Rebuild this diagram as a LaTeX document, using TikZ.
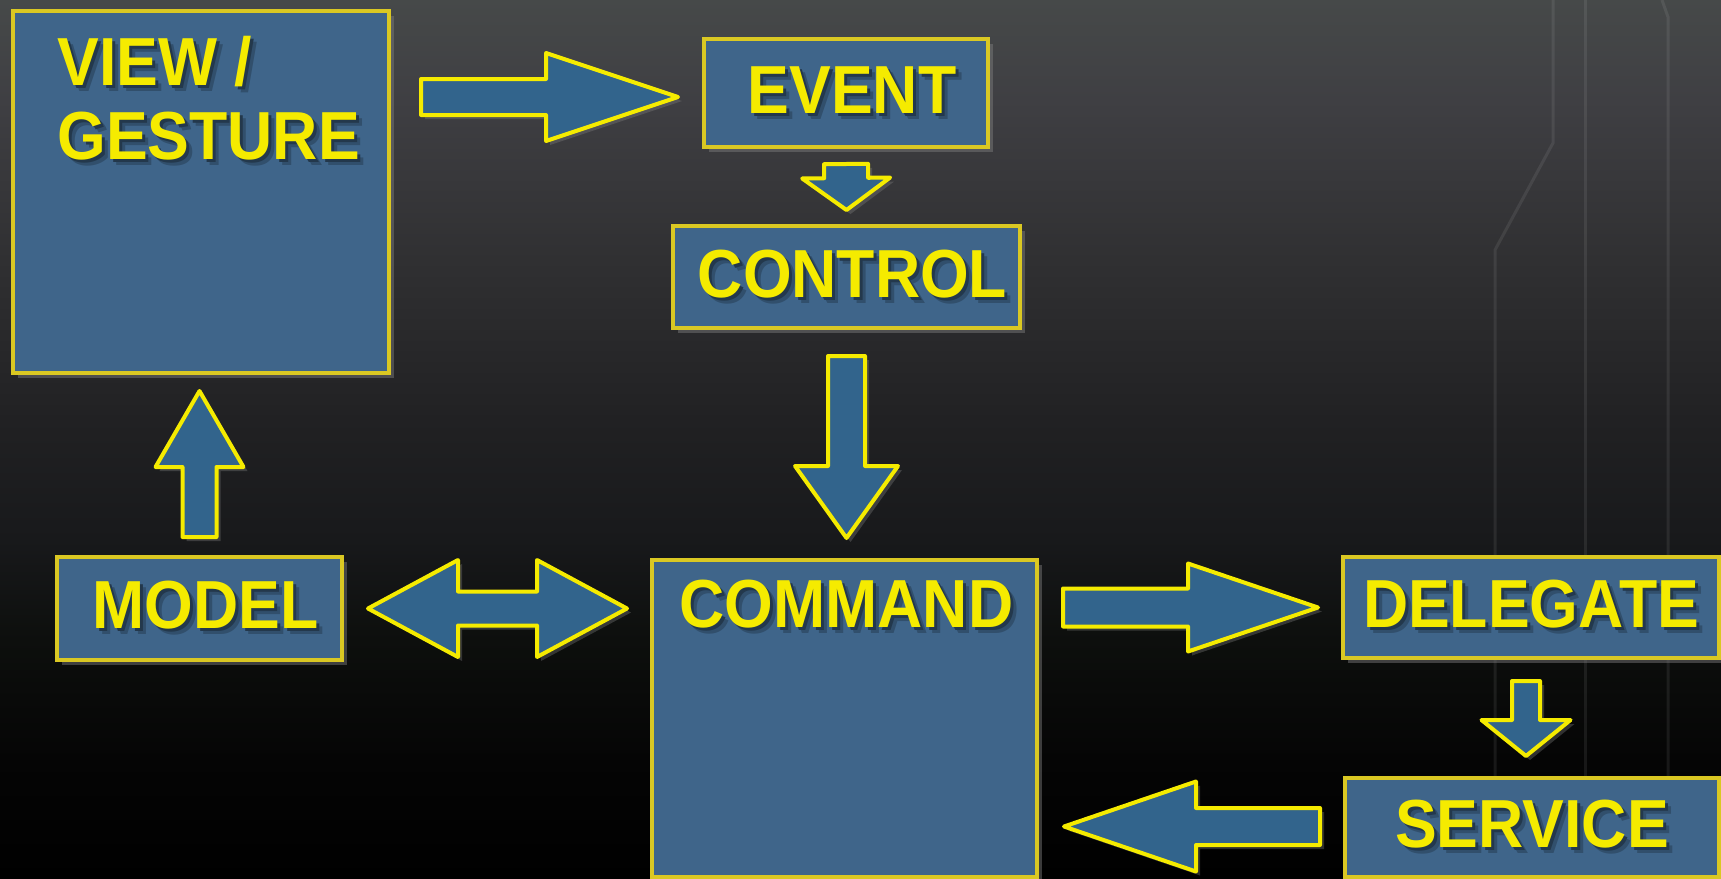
\documentclass[tikz,border=0pt]{standalone}
\usepackage{fontspec}
\usetikzlibrary{calc, shadows}
\newfontfamily\lblfont[FakeStretch=0.92]{Liberation Sans}
\definecolor{BoxFill}{RGB}{63,101,138}
\definecolor{BoxEdge}{RGB}{218,200,35}
\definecolor{ArrFill}{RGB}{50,100,140}
\definecolor{ArrEdge}{RGB}{245,235,0}
\definecolor{LblYellow}{RGB}{245,235,0}
\definecolor{BgA}{RGB}{70,73,73}
\definecolor{BgB}{RGB}{63,63,67}
\definecolor{BgC}{RGB}{48,48,50}
\definecolor{BgD}{RGB}{33,33,35}
\definecolor{BgE}{RGB}{24,25,27}
\definecolor{BgF}{RGB}{13,15,13}
\definecolor{BgG}{RGB}{5,5,5}
\colorlet{ShdNear}{BoxFill!55!black}
\colorlet{ShdFar}{BoxFill!78!black}
\pgfdeclareverticalshading{bgfade}{100bp}{color(0bp)=(black); color(25bp)=(black);
  color(31.8bp)=(BgG); color(38.6bp)=(BgF); color(44.3bp)=(BgE); color(51.1bp)=(BgD);
  color(60.2bp)=(BgC); color(69.3bp)=(BgB); color(75bp)=(BgA); color(100bp)=(BgA)}
% text with a soft shadow
\newcommand{\shd}[1]{%
  \makebox[0pt][l]{\kern3pt\raisebox{-3pt}{\color{ShdFar}#1}}%
  \makebox[0pt][l]{\kern1.5pt\raisebox{-1.5pt}{\color{ShdNear}#1}}%
  #1}
% same, nudged a little to the right
\newcommand{\shdr}[1]{\hspace*{6pt}\shd{#1}}
\tikzset{
  box/.style={draw=BoxEdge, line width=2pt, fill=BoxFill, inner sep=0pt,
    drop shadow={shadow xshift=2.5pt, shadow yshift=-2.5pt, opacity=0.45},
    font=\lblfont\bfseries\fontsize{34}{37}\selectfont, text=LblYellow},
  lbl/.style={inner sep=0pt, align=left,
    font=\lblfont\bfseries\fontsize{34}{37}\selectfont, text=LblYellow},
  trace/.style={draw=white, opacity=0.08, line width=1.5pt},
  fatbase/.style={draw=ArrEdge, fill=ArrFill, line width=2pt, line join=round,
    drop shadow={shadow xshift=2pt, shadow yshift=-2pt, opacity=0.35}},
  % #1 half shaft, #2 half head, #3 head length
  fat/.style n args={3}{fatbase, to path={
    let \p1=(\tikztostart), \p2=(\tikztotarget), \p3=($(\p2)!#3!(\p1)$) in
    ($(\p1)!#1!90:(\p2)$) -- ($(\p3)!#1!90:(\p2)$) -- ($(\p3)!#2!90:(\p2)$)
    -- (\p2) -- ($(\p3)!#2!-90:(\p2)$) -- ($(\p3)!#1!-90:(\p2)$)
    -- ($(\p1)!#1!-90:(\p2)$) -- cycle}},
  fatboth/.style n args={3}{fatbase, to path={
    let \p1=(\tikztostart), \p2=(\tikztotarget), \p3=($(\p2)!#3!(\p1)$),
        \p4=($(\p1)!#3!(\p2)$) in
    (\p1) -- ($(\p4)!#2!90:(\p2)$) -- ($(\p4)!#1!90:(\p2)$) -- ($(\p3)!#1!90:(\p2)$)
    -- ($(\p3)!#2!90:(\p2)$) -- (\p2) -- ($(\p3)!#2!-90:(\p2)$) -- ($(\p3)!#1!-90:(\p2)$)
    -- ($(\p4)!#1!-90:(\p2)$) -- ($(\p4)!#2!-90:(\p2)$) -- cycle}}
}

\begin{document}
\begin{tikzpicture}[x=0.5pt, y=-0.5pt]
  \useasboundingbox (0,0) rectangle (1721,879);
  \path[shading=bgfade] (0,0) rectangle (1721,879);
  % faint traces on the right
  \draw[trace] (1553,0) -- (1553,143) -- (1495,250) -- (1495,879);
  \draw[trace] (1585,0) -- (1585,879);
  \draw[trace] (1662,0) -- (1668,17) -- (1668,879);

  \node[box, minimum width=188pt, minimum height=181pt] (view) at (201,192) {};
  \node[lbl, anchor=north west] (viewlbl) at (57,36) {\shd{VIEW /}\\\shd{GESTURE}};
  \node[box, minimum width=142pt, minimum height=54pt] (event) at (846,93) {\shdr{EVENT}};
  \node[box, minimum width=173.5pt, minimum height=51pt] (control) at (846.5,277) {\shdr{CONTROL}};
  \node[box, minimum width=192.5pt, minimum height=158.5pt] (command) at (844.5,718.5) {};
  \node[lbl, anchor=north] (cmdlbl) at ($(command.north)+(2,22)$) {\shd{COMMAND}};
  \node[box, minimum width=142.5pt, minimum height=51.5pt] (model) at (199.5,608.5) {\shdr{MODEL}};
  \node[box, minimum width=188pt, minimum height=50.5pt] (delegate) at (1531,607.5) {\shd{DELEGATE}};
  \node[box, minimum width=187pt, minimum height=49.5pt] (service) at (1532,827.5) {\shd{SERVICE}};

  \draw[fat={9pt}{22pt}{66pt}] ($(view.east |- event.west)+(30,4)$) to ($(event.west)+(-24,4)$);
  \draw[fat={11pt}{22pt}{16pt}] ($(event.south)+(0,15)$) to ($(control.north)+(0,-14)$);
  \draw[fat={9.25pt}{25.75pt}{36pt}] ($(control.south)+(0,26)$) to ($(command.north)+(2,-20)$);
  \draw[fat={8.5pt}{22pt}{38pt}] ($(model.north)+(0,-18)$) to ($(view.south -| model.north)+(0,16)$);
  \draw[fatboth={8.5pt}{24.25pt}{45pt}] ($(model.east)+(24,0)$) to ($(command.west |- model.east)+(-23,0)$);
  \draw[fat={9.5pt}{22pt}{65pt}] ($(command.east |- delegate.west)+(24,0)$) to ($(delegate.west)+(-23,0)$);
  \draw[fat={7pt}{22.25pt}{18pt}] ($(delegate.south)+(-5,21)$) to ($(service.north)+(-6,-20)$);
  \draw[fat={9.25pt}{22.5pt}{66pt}] ($(service.west)+(-23,-1)$) to ($(command.east |- service.west)+(25,-1)$);
\end{tikzpicture}
\end{document}
